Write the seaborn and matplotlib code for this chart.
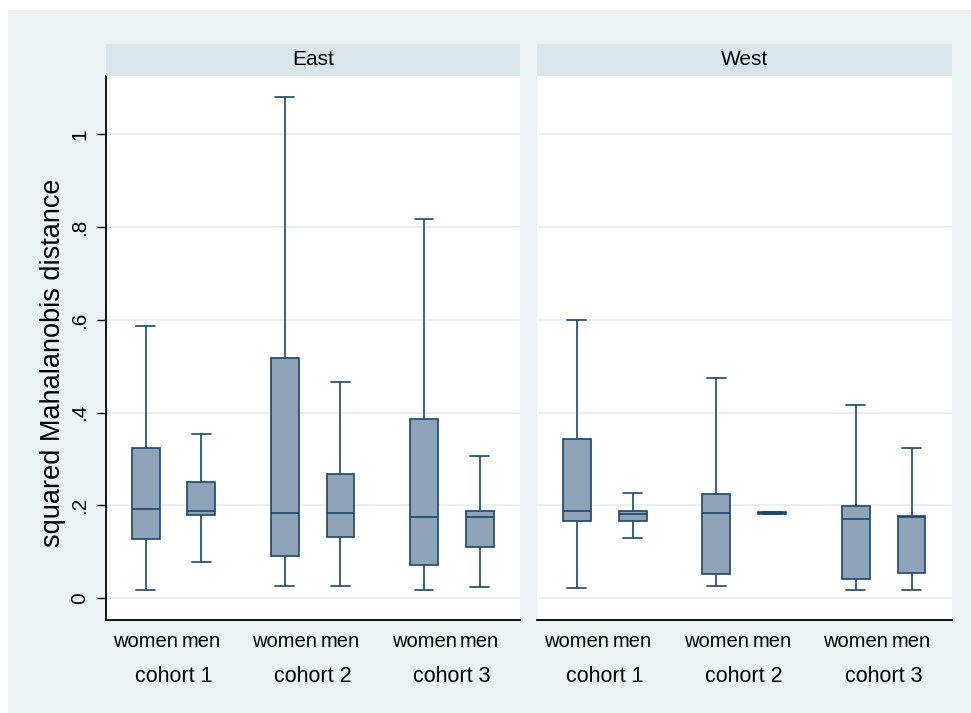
import matplotlib
matplotlib.use("Agg")
import matplotlib.pyplot as plt
from matplotlib.patches import Rectangle
import matplotlib.transforms as mtransforms
import numpy as np
import seaborn as sns
import pandas as pd

# ---- data ----
regions = ["East", "West"]
cohorts = ["cohort 1", "cohort 2", "cohort 3"]
sexes = ["women", "men"]

# order: East c1 women, East c1 men, East c2 women, ..., West c3 men
whisker_low = [0.017, 0.079, 0.027, 0.027, 0.017, 0.024, 0.021, 0.130, 0.027, 0.181, 0.017, 0.017]
quartile_1 = [0.128, 0.179, 0.090, 0.131, 0.072, 0.110, 0.166, 0.166, 0.052, 0.182, 0.042, 0.055]
median = [0.192, 0.189, 0.183, 0.183, 0.175, 0.176, 0.189, 0.182, 0.183, 0.183, 0.171, 0.176]
quartile_3 = [0.324, 0.251, 0.517, 0.268, 0.386, 0.189, 0.344, 0.189, 0.224, 0.185, 0.199, 0.178]
whisker_high = [0.586, 0.354, 1.081, 0.466, 0.817, 0.307, 0.599, 0.227, 0.475, 0.186, 0.416, 0.324]

y_ticks = [0, 0.2, 0.4, 0.6, 0.8, 1.0]
y_tick_labels = ["0", ".2", ".4", ".6", ".8", "1"]
y_title = "squared Mahalanobis distance"

rows = []
i = 0
for r in regions:
    for c in cohorts:
        for s in sexes:
            for v in (whisker_low[i], quartile_1[i], median[i], quartile_3[i], whisker_high[i]):
                rows.append({"region": r, "cohort": c, "sex": s, "value": v})
            i += 1
df = pd.DataFrame(rows)

# ---- style ----
sns.set_theme(style="white")
plt.rcParams["font.family"] = ["Liberation Sans", "DejaVu Sans"]

W, H = 971, 713
fig = plt.figure(figsize=(W / 100, H / 100), dpi=100, facecolor="white")
bg = "#EAF2F3"
strip_bg = "#D9E6EC"
fill = "#8FA3B8"
edge = "#1A476F"

fig.patches.append(Rectangle((8 / W, 0), 1 - 8 / W, 1 - 10 / H, transform=fig.transFigure,
                             facecolor=bg, edgecolor="none", zorder=-10))

ax_top, ax_bot = 75.6, 620
strip_top = 44
panel_x = [(106, 520), (537, 952)]
cap_w = 0.136

for k, (r, (x0, x1)) in enumerate(zip(regions, panel_x)):
    ax = fig.add_axes([x0 / W, 1 - ax_bot / H, (x1 - x0) / W, (ax_bot - ax_top) / H])
    ax.set_facecolor("white")
    sub = df[df["region"] == r]
    sns.boxplot(data=sub, x="cohort", y="value", hue="sex", order=cohorts, hue_order=sexes,
                whis=(0, 100), width=0.8, gap=0.5, palette={"women": fill, "men": fill},
                saturation=1, linecolor=edge, linewidth=1.2, showfliers=False,
                legend=False, ax=ax)
    # widen whisker caps a little (Stata-like)
    for ln in ax.lines:
        xd = np.asarray(ln.get_xdata(), dtype=float)
        yd = np.asarray(ln.get_ydata(), dtype=float)
        if len(xd) == 2 and np.isclose(yd[0], yd[1]):
            wdt = abs(xd[1] - xd[0])
            if 0 < wdt < 0.19:
                cx = xd.mean()
                ln.set_xdata([cx - cap_w / 2, cx + cap_w / 2])
    ax.set_xlim(-0.485, 2.49)
    ax.set_ylim(-0.047, 1.127)
    ax.set_yticks(y_ticks)
    ax.yaxis.grid(True, color=bg, linewidth=1.4)
    ax.set_axisbelow(True)
    ax.set_xlabel("")
    ax.set_ylabel("")
    ax.set_xticks([])
    for side in ["top", "right"]:
        ax.spines[side].set_visible(False)
    ax.spines["bottom"].set_color("black")
    ax.spines["bottom"].set_linewidth(1.3)
    w_ax = x1 - x0
    if k == 0:
        ax.spines["left"].set_color("black")
        ax.spines["left"].set_linewidth(1.3)
        ax.tick_params(axis="y", direction="out", length=6.5, width=1.0, color="black",
                       left=True, labelleft=False)
        ytrans = mtransforms.blended_transform_factory(ax.transAxes, ax.transData)
        for tv, tl in zip(y_ticks, y_tick_labels):
            ax.text((80 - x0) / w_ax, tv, tl, transform=ytrans, rotation=90,
                    ha="center", va="center", fontsize=15, color="black")
    else:
        ax.spines["left"].set_visible(False)
        ax.tick_params(axis="y", length=0, left=False, labelleft=False)

    trans = mtransforms.blended_transform_factory(ax.transData, ax.transAxes)
    h_ax = ax_bot - ax_top
    for ci, c in enumerate(cohorts):
        for si, s in enumerate(sexes):
            ax.text(ci - 0.2 + 0.4 * si, (ax_bot - 641.7) / h_ax, s, transform=trans,
                    ha="center", va="center", fontsize=14.5, color="black")
        ax.text(ci, (ax_bot - 676) / h_ax, c, transform=trans, ha="center", va="center",
                fontsize=15.5, color="black")

    sax = fig.add_axes([x0 / W, 1 - ax_top / H, (x1 - x0) / W, (ax_top - strip_top) / H])
    sax.set_facecolor(strip_bg)
    sax.set_xticks([])
    sax.set_yticks([])
    for sp in sax.spines.values():
        sp.set_visible(False)
    sax.text(0.5, 0.5, r, ha="center", va="center", fontsize=15, color="black",
             transform=sax.transAxes)

fig.text(53 / W, 1 - 363 / H, y_title, rotation=90, ha="center", va="center", fontsize=19.5,
         color="black")

fig.savefig("out.png", dpi=100, facecolor="white")
